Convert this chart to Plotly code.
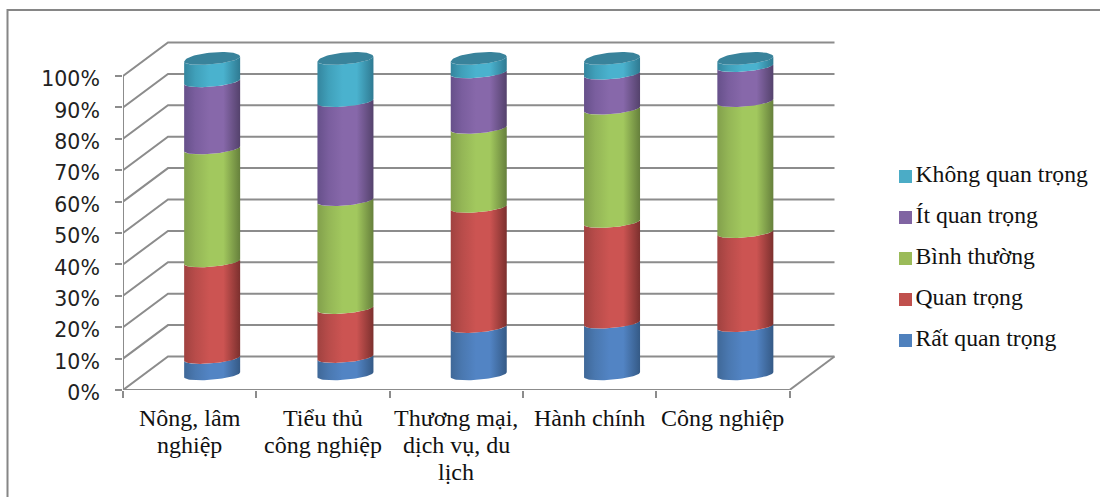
import numpy as np
import plotly.graph_objects as go

# Stacked shares (%) per sector, bottom series first
categories = ["Nông, lâm<br>nghiệp", "Tiểu thủ<br>công nghiệp", "Thương mại,<br>dịch vụ, du<br>lịch",
              "Hành chính", "Công nghiệp"]
series_names = ["Rất quan trọng", "Quan trọng", "Bình thường", "Ít quan trọng", "Không quan trọng"]
rat_quan_trong = [5.2, 5.5, 15.0, 16.4, 15.3]
quan_trong = [30.6, 15.5, 38.1, 31.9, 29.8]
binh_thuong = [35.8, 34.2, 25.0, 35.9, 41.5]
it_quan_trong = [21.3, 31.4, 17.6, 11.1, 11.1]
khong_quan_trong = [7.1, 13.4, 4.3, 4.7, 2.3]
series_values = [rat_quan_trong, quan_trong, binh_thuong, it_quan_trong, khong_quan_trong]
y_ticks = list(range(0, 101, 10))

# Series colours: (edge-left, shoulder, centre, edge-right)
shades = [
    ("#3f6898", "#4a78b0", "#5284c4", "#355a86"),
    ("#a04240", "#b84c4a", "#cc5452", "#7c302e"),
    ("#82a04c", "#94b656", "#a2c85e", "#66803c"),
    ("#66508a", "#7a5e9e", "#8768aa", "#54426c"),
    ("#34859e", "#40a0ba", "#4ab2ce", "#2f7a92"),
]
swatches = ["#4f81bd", "#c0504d", "#9bbb59", "#8064a2", "#4bacc6"]
cap_colour = "#39839b"
wall_colour = "#8c8c8c"
serif = "Liberation Serif"

W, H = 1100, 497
PLOT_L, PLOT_R, PLOT_T, PLOT_B = 123, 838, 40, 390
PX_PER_CAT = 133.3
PX_PER_PCT = 3.14

x_max = (PLOT_R - PLOT_L) / PX_PER_CAT
y_max = (PLOT_B - PLOT_T) / PX_PER_PCT

# Oblique depth of the chart box, in axis units
depth_x = 45 / PX_PER_CAT
depth_y = 33.5 / PX_PER_PCT

# Cylinder cross-section and placement inside the box, in axis units
radius = 28 / PX_PER_CAT
ell_tilt = 2.5 / PX_PER_PCT
ell_rise_front = 5.0 / PX_PER_PCT
ell_rise_back = 6.8 / PX_PER_PCT
cyl_floor = 15.3 / PX_PER_PCT
cyl_stretch = 1.0048

n_cat = len(categories)
fig = go.Figure()


def wall_line(xs, ys, width=2):
    fig.add_trace(go.Scatter(x=xs, y=ys, mode="lines", hoverinfo="skip", showlegend=False,
                             line=dict(color=wall_colour, width=width)))


# Back wall and side wall gridlines
for v in y_ticks:
    wall_line([0, depth_x, n_cat + depth_x], [v, v + depth_y, v + depth_y])
# Floor edge and front axis lines
wall_line([n_cat, n_cat + depth_x], [0, depth_y])
wall_line([0, n_cat], [0, 0])
wall_line([0, 0], [0, 100])


def rim(centre, level, start, stop, n=40):
    t = np.linspace(start, stop, n)
    rise = np.where(np.sin(t) < 0, ell_rise_front, ell_rise_back)
    return (centre + radius * np.cos(t),
            cyl_floor + level * cyl_stretch + ell_tilt * np.cos(t) + rise * np.sin(t))


# Cylinder segments, stacked series by series
for i in range(n_cat):
    centre = i + 0.5 + depth_x / 2
    base = 0.0
    for s, values in enumerate(series_values):
        top = base + values[i]
        x_up, y_up = rim(centre, top, np.pi, 2 * np.pi)
        x_lo, y_lo = rim(centre, base, 2 * np.pi, np.pi)
        left, shoulder, mid, right = shades[s]
        fig.add_trace(go.Scatter(
            x=np.r_[x_up, x_lo, x_up[:1]], y=np.r_[y_up, y_lo, y_up[:1]],
            mode="lines", fill="toself", line=dict(width=0), name=series_names[s],
            fillgradient=dict(type="horizontal",
                              colorscale=[[0, left], [0.2, shoulder], [0.45, mid], [0.7, mid], [1, right]]),
            showlegend=False, hoverinfo="skip"))
        base = top
    x_cap, y_cap = rim(centre, base, 0, 2 * np.pi, 80)
    fig.add_trace(go.Scatter(x=x_cap, y=y_cap, mode="lines", fill="toself", line=dict(width=0),
                             fillcolor=cap_colour, showlegend=False, hoverinfo="skip"))

# Category labels, one annotation per wrapped line
annotations = []
for i, label in enumerate(categories):
    for j, line in enumerate(label.split("<br>")):
        annotations.append(dict(x=i + 0.5, y=0, xref="x", yref="y", text=line, showarrow=False,
                                xanchor="center", yanchor="middle", yshift=-(28 + 27.2 * j),
                                font=dict(family=serif, size=24, color="#111111")))

# Key on its own small axes: swatches, then the names beside them
fig.add_trace(go.Scatter(
    x=[0] * len(series_names), y=series_names, mode="markers", xaxis="x3", yaxis="y3", cliponaxis=False,
    marker=dict(symbol="square", size=13, color=swatches), showlegend=False, hoverinfo="skip"))
fig.add_trace(go.Scatter(
    x=[10] * len(series_names), y=series_names, text=series_names, mode="text",
    textposition="middle right", xaxis="x3", yaxis="y3", cliponaxis=False,
    textfont=dict(family=serif, size=23.7, color="#111111"), showlegend=False, hoverinfo="skip"))

fig.update_layout(
    width=W, height=H, margin=dict(l=0, r=0, t=0, b=0, autoexpand=False), autosize=False,
    paper_bgcolor="white", plot_bgcolor="rgba(0,0,0,0)", showlegend=False,
    xaxis=dict(domain=[PLOT_L / W, PLOT_R / W], range=[0, x_max], tickvals=list(range(n_cat + 1)),
               showticklabels=False, ticks="outside", ticklen=7, tickwidth=2, tickcolor=wall_colour,
               showgrid=False, zeroline=False, showline=False),
    yaxis=dict(domain=[1 - PLOT_B / H, 1 - PLOT_T / H], range=[0, y_max], tickvals=y_ticks,
               ticktext=[f"{v}%" for v in y_ticks], ticks="outside", ticklen=7, tickwidth=2,
               tickcolor=wall_colour, ticklabelstandoff=11, ticklabelshift=3,
               tickfont=dict(family="DejaVu Sans", size=20.5, color="#222222"),
               showgrid=False, zeroline=False, showline=False),
    xaxis3=dict(domain=[905.5 / W, 1], range=[0, W - 905.5], visible=False, anchor="y3"),
    yaxis3=dict(domain=[1 - 361 / H, 1 - 156 / H], range=[-0.5, 4.5], type="category",
                categoryorder="array", categoryarray=series_names, visible=False, anchor="x3"),
    annotations=annotations,
    # Chart-area border runs past the right and bottom of the page
    shapes=[dict(type="rect", xref="paper", yref="paper", x0=7.5 / W, x1=1.05,
                 y0=-0.05, y1=1 - 10 / H, line=dict(color="#868686", width=2), layer="below")],
)
fig.write_html("out.html")
